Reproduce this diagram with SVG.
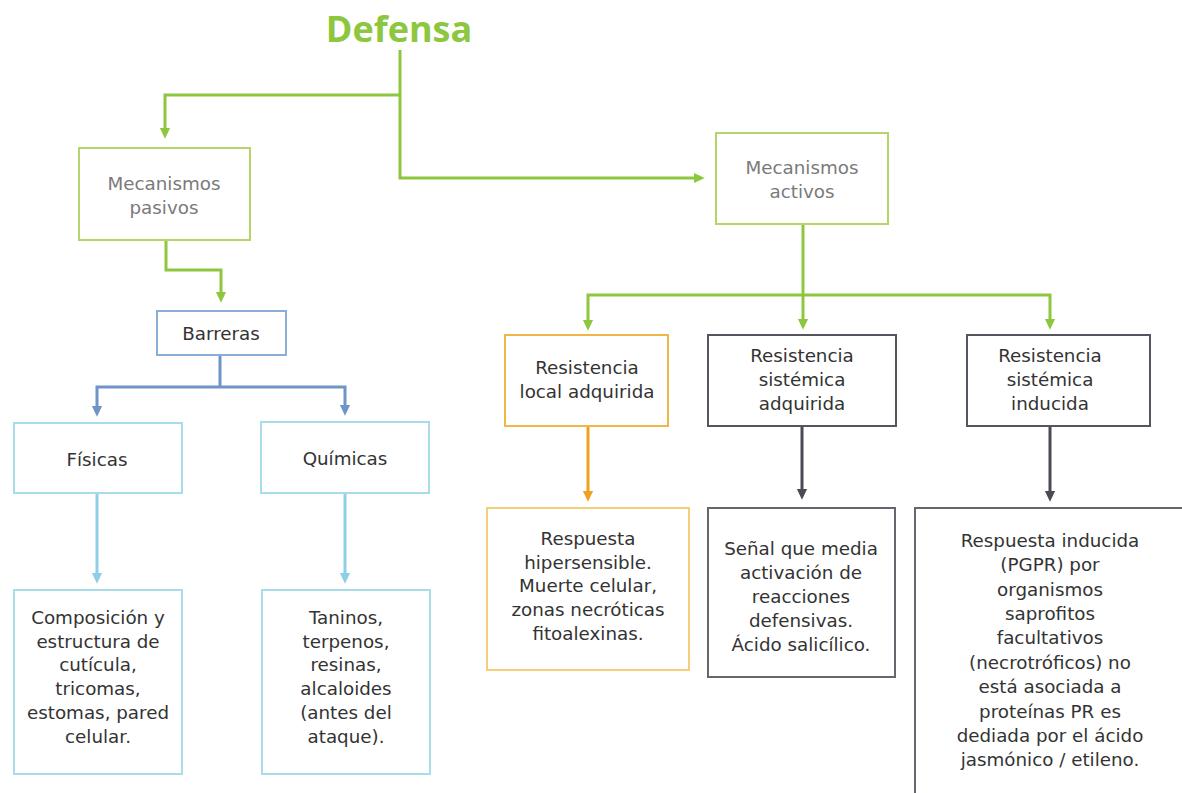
<svg xmlns="http://www.w3.org/2000/svg" width="1182" height="793" viewBox="0 0 1182 793">
<defs>
<style>
text{font-family:"DejaVu Sans",sans-serif;font-size:18.3px;fill:#333;text-anchor:middle}
.title{font-family:"Open Sans","Noto Sans",sans-serif;font-size:36px;font-weight:bold;fill:#8dc63f}
.lt{fill:#7a7a7a}
.box{fill:#fff;stroke-width:2}
.c{fill:none;stroke-width:3}
</style>
<marker id="ag" markerWidth="4" markerHeight="4" refX="2" refY="2" orient="auto" markerUnits="strokeWidth"><path d="M0,0.3 L3.6,2 L0,3.7 z" fill="#8dc63f"/></marker>
<marker id="ab" markerWidth="4" markerHeight="4" refX="2" refY="2" orient="auto" markerUnits="strokeWidth"><path d="M0,0.3 L3.6,2 L0,3.7 z" fill="#6f94c8"/></marker>
<marker id="al" markerWidth="4" markerHeight="4" refX="2" refY="2" orient="auto" markerUnits="strokeWidth"><path d="M0,0.3 L3.6,2 L0,3.7 z" fill="#8fcfe6"/></marker>
<marker id="ao" markerWidth="4" markerHeight="4" refX="2" refY="2" orient="auto" markerUnits="strokeWidth"><path d="M0,0.3 L3.6,2 L0,3.7 z" fill="#f0a020"/></marker>
<marker id="ad" markerWidth="4" markerHeight="4" refX="2" refY="2" orient="auto" markerUnits="strokeWidth"><path d="M0,0.3 L3.6,2 L0,3.7 z" fill="#4a4a55"/></marker>
</defs>
<rect width="1182" height="793" fill="#fff"/>
<g id="connectors">
<path class="c" stroke="#8dc63f" d="M400,50 V178 H700" marker-end="url(#ag)"/>
<path class="c" stroke="#8dc63f" d="M400,95 H165 V134" marker-end="url(#ag)"/>
<path class="c" stroke="#8dc63f" d="M166,240 V270 H221 V298" marker-end="url(#ag)"/>
<path class="c" stroke="#8dc63f" d="M803,225 V325" marker-end="url(#ag)"/>
<path class="c" stroke="#8dc63f" d="M588,325 V295 H1050 V325" marker-end="url(#ag)"/>
<path class="c" stroke="#8dc63f" d="M588,325 V326" marker-end="url(#ag)"/>
<path class="c" stroke="#6f94c8" d="M220,355 V387"/>
<path class="c" stroke="#6f94c8" d="M97,411 V387 H345 V411" marker-end="url(#ab)"/>
<path class="c" stroke="#6f94c8" d="M97,411 V412" marker-end="url(#ab)"/>
<path class="c" stroke="#8fcfe6" d="M97,493 V579" marker-end="url(#al)"/>
<path class="c" stroke="#8fcfe6" d="M345,493 V579" marker-end="url(#al)"/>
<path class="c" stroke="#f0a020" d="M588,426 V497" marker-end="url(#ao)"/>
<path class="c" stroke="#4a4a55" d="M802,426 V495" marker-end="url(#ad)"/>
<path class="c" stroke="#4a4a55" d="M1050,426 V497" marker-end="url(#ad)"/>
</g>
<g id="defensa"><text class="title" x="399" y="42">Defensa</text></g>
<g id="pasivos"><rect class="box" stroke="#b5d56a" x="79" y="148" width="171" height="92"/>
<text class="lt"><tspan x="164" y="190">Mecanismos</tspan><tspan x="164" y="214">pasivos</tspan></text></g>
<g id="activos"><rect class="box" stroke="#b5d56a" x="716" y="133" width="172" height="91"/>
<text class="lt"><tspan x="802" y="174">Mecanismos</tspan><tspan x="802" y="198">activos</tspan></text></g>
<g id="barreras"><rect class="box" stroke="#8aaed6" x="157" y="311" width="129" height="44"/>
<text x="221" y="340">Barreras</text></g>
<g id="fisicas"><rect class="box" stroke="#a9dceb" x="14" y="423" width="168" height="70"/>
<text x="97" y="466">Físicas</text></g>
<g id="quimicas"><rect class="box" stroke="#a9dceb" x="261" y="422" width="168" height="71"/>
<text x="345" y="465">Químicas</text></g>
<g id="composicion"><rect class="box" stroke="#a9dceb" x="14" y="590" width="168" height="184"/>
<text><tspan x="98" y="624">Composición y</tspan><tspan x="98" y="648">estructura de</tspan><tspan x="98" y="671">cutícula,</tspan><tspan x="98" y="695">tricomas,</tspan><tspan x="98" y="719">estomas, pared</tspan><tspan x="98" y="743">celular.</tspan></text></g>
<g id="taninos"><rect class="box" stroke="#a9dceb" x="262" y="590" width="168" height="184"/>
<text><tspan x="346" y="624">Taninos,</tspan><tspan x="346" y="648">terpenos,</tspan><tspan x="346" y="671">resinas,</tspan><tspan x="346" y="695">alcaloides</tspan><tspan x="346" y="719">(antes del</tspan><tspan x="346" y="743">ataque).</tspan></text></g>
<g id="rla"><rect class="box" stroke="#f0b64a" x="505" y="335" width="163" height="91"/>
<text><tspan x="587" y="374">Resistencia</tspan><tspan x="587" y="398">local adquirida</tspan></text></g>
<g id="rsa"><rect class="box" stroke="#55555f" x="708" y="335" width="188" height="91"/>
<text><tspan x="802" y="362">Resistencia</tspan><tspan x="802" y="386">sistémica</tspan><tspan x="802" y="410">adquirida</tspan></text></g>
<g id="rsi"><rect class="box" stroke="#55555f" x="967" y="335" width="183" height="91"/>
<text><tspan x="1050" y="362">Resistencia</tspan><tspan x="1050" y="386">sistémica</tspan><tspan x="1050" y="410">inducida</tspan></text></g>
<g id="hipersensible"><rect class="box" stroke="#f3cf7a" x="487" y="508" width="202" height="162"/>
<text><tspan x="588" y="545">Respuesta</tspan><tspan x="588" y="569">hipersensible.</tspan><tspan x="588" y="592">Muerte celular,</tspan><tspan x="588" y="616">zonas necróticas</tspan><tspan x="588" y="640">fitoalexinas.</tspan></text></g>
<g id="senal"><rect class="box" stroke="#66666f" x="708" y="508" width="187" height="169"/>
<text><tspan x="801" y="555">Señal que media</tspan><tspan x="801" y="579">activación de</tspan><tspan x="801" y="603">reacciones</tspan><tspan x="801" y="627">defensivas.</tspan><tspan x="801" y="651">Ácido salicílico.</tspan></text></g>
<g id="inducida"><rect class="box" stroke="#66666f" x="915" y="508" width="280" height="300"/>
<text><tspan x="1050" y="547">Respuesta inducida</tspan><tspan x="1050" y="571">(PGPR) por</tspan><tspan x="1050" y="596">organismos</tspan><tspan x="1050" y="620">saprofitos</tspan><tspan x="1050" y="644">facultativos</tspan><tspan x="1050" y="669">(necrotróficos) no</tspan><tspan x="1050" y="693">está asociada a</tspan><tspan x="1050" y="718">proteínas PR es</tspan><tspan x="1050" y="742">dediada por el ácido</tspan><tspan x="1050" y="766">jasmónico / etileno.</tspan></text></g>
</svg>
